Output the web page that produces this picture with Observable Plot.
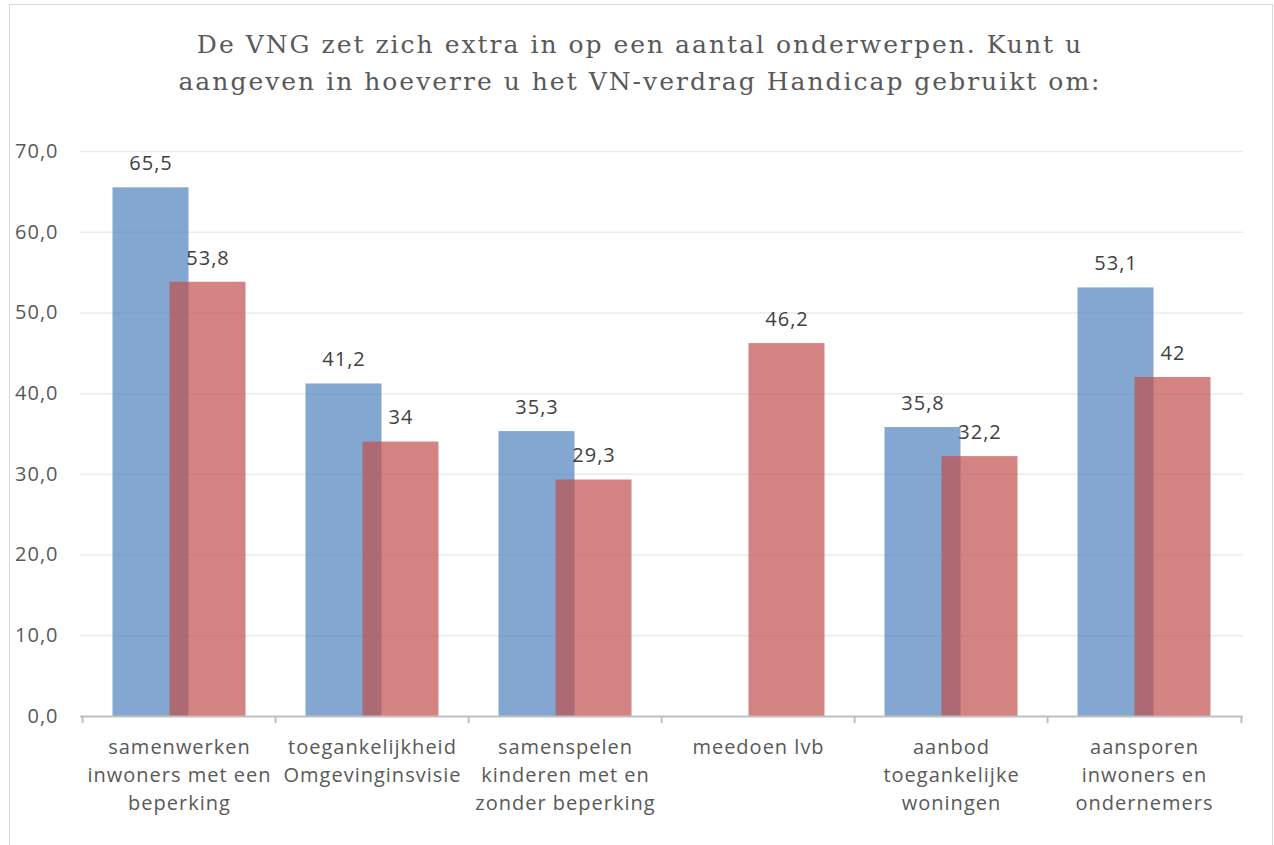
<!DOCTYPE html>
<html>
<head>
<meta charset="utf-8">
<script src="https://cdn.jsdelivr.net/npm/d3@7"></script>
<script src="https://cdn.jsdelivr.net/npm/@observablehq/plot@0.6"></script>
<style>
html, body { margin: 0; padding: 0; background: #fff; }
#page { position: relative; width: 1274px; height: 845px; overflow: hidden; }
#frame { position: absolute; left: 9px; top: 4px; width: 1264px; height: 900px; border: 1.5px solid #D9D9D9; box-sizing: border-box; pointer-events: none; }
#title { height: 120px; box-sizing: border-box; padding-top: 26px; padding-left: 6px; text-align: center; font-family: "DejaVu Serif"; font-size: 25px; line-height: 37px; color: #595959; letter-spacing: 2px; }
#chart svg text { letter-spacing: 1px; }
</style>
</head>
<body>
<div id="page">
  <div id="frame"></div>
  <div id="title">De VNG zet zich extra in op een aantal onderwerpen. Kunt u<br>aangeven in hoeverre u het VN-verdrag Handicap gebruikt om:</div>
  <div id="chart"></div>
</div>
<script>
const categories = [
  "samenwerken inwoners met een beperking",
  "toegankelijkheid Omgevinginsvisie",
  "samenspelen kinderen met en zonder beperking",
  "meedoen lvb",
  "aanbod toegankelijke woningen",
  "aansporen inwoners en ondernemers"
];
const tickLabels = [
  "samenwerken\ninwoners met een\nbeperking",
  "toegankelijkheid\nOmgevinginsvisie",
  "samenspelen\nkinderen met en\nzonder beperking",
  "meedoen lvb",
  "aanbod\ntoegankelijke\nwoningen",
  "aansporen\ninwoners en\nondernemers"
];
const blueValues = [65.5, 41.2, 35.3, null, 35.8, 53.1];
const redValues  = [53.8, 34, 29.3, 46.2, 32.2, 42];
const yTicks = [0, 10, 20, 30, 40, 50, 60, 70];

const blueData = categories.map((c, i) => ({cat: c, v: blueValues[i]})).filter(d => d.v != null);
const redData  = categories.map((c, i) => ({cat: c, v: redValues[i]})).filter(d => d.v != null);
const labelOf = new Map(categories.map((c, i) => [c, tickLabels[i]]));
const fmtVal = v => String(v).replace(".", ",");
const fmtTick = v => d3.format(".1f")(v).replace(".", ",");

const font = "'Open Sans', sans-serif";
const half = (1243 - 80) / 6 / 2;
const off = 28.5;

const chart = Plot.plot({
  width: 1274,
  height: 725,
  marginTop: 31,
  marginBottom: 129,
  marginLeft: 80,
  marginRight: 31,
  style: {fontFamily: font, background: "transparent", overflow: "visible"},
  x: {domain: categories, paddingInner: 0.608, paddingOuter: 0.304, axis: null},
  y: {domain: [0, 70], axis: null},
  marks: [
    Plot.gridY(yTicks.filter(t => t > 0), {stroke: "#EBEBEB", strokeOpacity: 1, strokeWidth: 1.5}),
    Plot.axisY(yTicks, {tickSize: 0, tickPadding: 22, tickFormat: fmtTick, fontSize: 20, color: "#595959", label: null}),
    Plot.barY(blueData, {x: "cat", y: "v", fill: "#4F81BD", fillOpacity: 0.7, dx: -off}),
    Plot.barY(redData, {x: "cat", y: "v", fill: "#C0504D", fillOpacity: 0.7, dx: off}),
    Plot.ruleY([0], {stroke: "#BFBFBF", strokeWidth: 2}),
    Plot.ruleX(categories, {x: d => d, y1: 0, y2: 0, insetBottom: -7, dx: -half, stroke: "#BFBFBF", strokeWidth: 2}),
    Plot.ruleX(categories.slice(-1), {x: d => d, y1: 0, y2: 0, insetBottom: -7, dx: half, stroke: "#BFBFBF", strokeWidth: 2}),
    Plot.text(blueData, {x: "cat", y: "v", text: d => fmtVal(d.v), dx: -off, dy: -24, fontSize: 20, fill: "#404040"}),
    Plot.text(redData, {x: "cat", y: "v", text: d => fmtVal(d.v), dx: off, dy: -24, fontSize: 20, fill: "#404040"}),
    Plot.text(categories, {x: d => d, y: () => 0, text: d => labelOf.get(d), lineAnchor: "top", lineHeight: 1.4, dy: 18, fontSize: 20, fill: "#595959"})
  ]
});
document.getElementById("chart").appendChild(chart);
</script>
</body>
</html>
